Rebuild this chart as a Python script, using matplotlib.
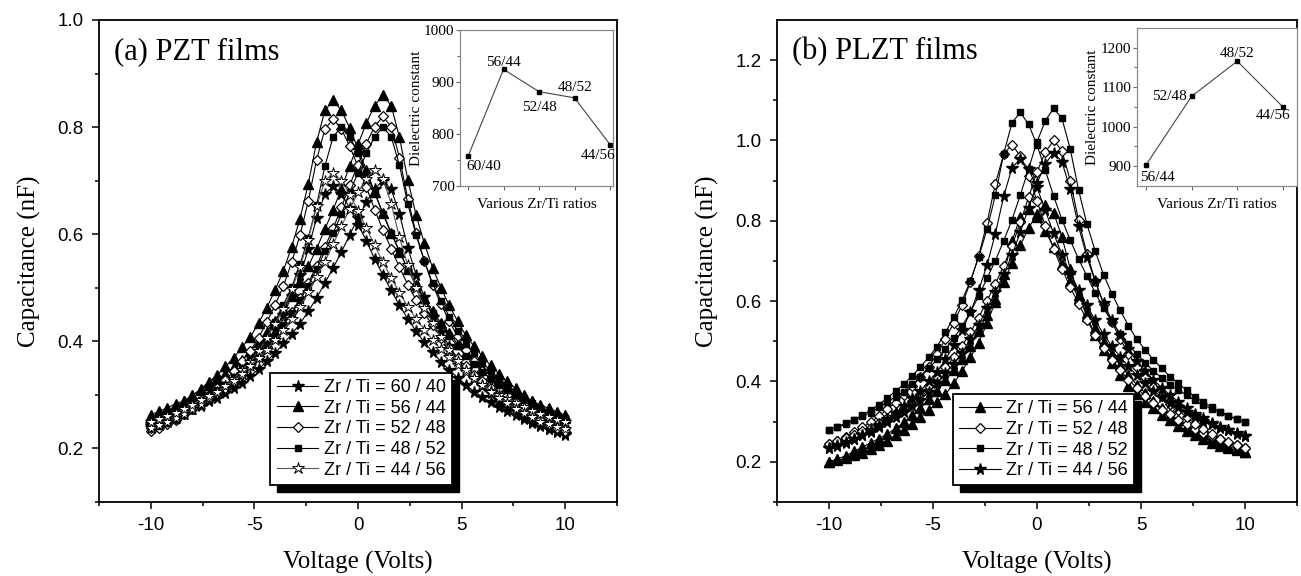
import numpy as np
import matplotlib.pyplot as plt
from matplotlib.patches import Rectangle

plt.rcParams['font.family'] = 'Liberation Serif'
plt.rcParams['axes.unicode_minus'] = False
SANS = 'Liberation Sans'

# bias sweep grid (V), 0.4 V steps
volts = np.round(np.arange(-10.0, 10.01, 0.4), 2)

# ---- (a) PZT films: capacitance (nF), "neg" = branch peaking at negative bias
pzt_6040_neg = [0.242,0.247,0.251,0.259,0.266,0.274,0.283,0.293,0.303,0.315,0.327,0.342,0.357,0.376,0.398,0.423,0.450,0.484,0.523,0.572,0.631,0.675,0.690,0.675,0.649,0.618,0.588,0.554,0.524,0.495,0.467,0.442,0.419,0.398,0.380,0.362,0.347,0.332,0.319,0.306,0.296,0.286,0.278,0.270,0.263,0.255,0.247,0.242,0.237,0.232,0.227]
pzt_6040_pos = [0.245,0.250,0.255,0.260,0.265,0.273,0.280,0.288,0.295,0.303,0.313,0.323,0.335,0.348,0.363,0.378,0.396,0.413,0.433,0.456,0.481,0.509,0.537,0.567,0.599,0.630,0.660,0.685,0.700,0.684,0.638,0.575,0.524,0.482,0.446,0.417,0.391,0.368,0.347,0.332,0.316,0.303,0.290,0.280,0.269,0.259,0.251,0.243,0.236,0.230,0.225]
pzt_5644_neg = [0.255,0.262,0.268,0.278,0.288,0.298,0.311,0.324,0.337,0.353,0.369,0.389,0.408,0.434,0.463,0.496,0.532,0.577,0.629,0.694,0.772,0.831,0.850,0.831,0.798,0.759,0.720,0.678,0.639,0.603,0.567,0.535,0.506,0.480,0.457,0.434,0.415,0.395,0.379,0.363,0.350,0.337,0.327,0.317,0.307,0.298,0.288,0.281,0.275,0.268,0.262]
pzt_5644_pos = [0.263,0.269,0.276,0.283,0.289,0.299,0.309,0.319,0.329,0.339,0.352,0.365,0.382,0.398,0.418,0.438,0.461,0.484,0.510,0.540,0.573,0.609,0.646,0.685,0.728,0.768,0.807,0.840,0.860,0.840,0.781,0.702,0.636,0.583,0.537,0.500,0.467,0.438,0.411,0.391,0.372,0.355,0.339,0.325,0.312,0.299,0.289,0.279,0.269,0.263,0.256]
pzt_5248_neg = [0.232,0.239,0.245,0.254,0.264,0.274,0.286,0.299,0.312,0.328,0.344,0.363,0.382,0.407,0.436,0.468,0.503,0.548,0.598,0.662,0.739,0.796,0.815,0.796,0.764,0.726,0.688,0.646,0.608,0.573,0.538,0.506,0.477,0.452,0.430,0.407,0.388,0.369,0.353,0.337,0.325,0.312,0.302,0.293,0.283,0.274,0.264,0.258,0.251,0.245,0.239]
pzt_5248_pos = [0.239,0.245,0.252,0.258,0.265,0.274,0.284,0.294,0.303,0.313,0.326,0.339,0.355,0.371,0.390,0.409,0.432,0.454,0.480,0.509,0.541,0.576,0.611,0.650,0.692,0.730,0.769,0.801,0.820,0.801,0.743,0.666,0.602,0.550,0.505,0.470,0.438,0.409,0.383,0.364,0.345,0.329,0.313,0.300,0.287,0.274,0.265,0.255,0.245,0.239,0.233]
pzt_4852_neg = [0.238,0.242,0.248,0.254,0.263,0.272,0.282,0.294,0.306,0.318,0.333,0.349,0.367,0.385,0.410,0.437,0.468,0.501,0.544,0.593,0.654,0.727,0.782,0.800,0.782,0.751,0.715,0.678,0.638,0.602,0.568,0.535,0.504,0.477,0.452,0.431,0.410,0.391,0.373,0.358,0.343,0.330,0.318,0.309,0.300,0.291,0.282,0.272,0.266,0.260,0.254]
pzt_4852_pos = [0.248,0.254,0.260,0.266,0.272,0.282,0.291,0.300,0.309,0.318,0.330,0.343,0.358,0.373,0.391,0.410,0.431,0.452,0.477,0.504,0.535,0.568,0.602,0.638,0.678,0.715,0.751,0.782,0.800,0.782,0.729,0.657,0.598,0.550,0.508,0.476,0.446,0.419,0.395,0.378,0.360,0.345,0.330,0.318,0.306,0.294,0.285,0.276,0.268,0.262,0.256]
pzt_4456_neg = [0.239,0.244,0.250,0.257,0.265,0.273,0.283,0.294,0.304,0.317,0.330,0.346,0.361,0.382,0.406,0.432,0.460,0.497,0.538,0.590,0.653,0.699,0.715,0.700,0.674,0.643,0.612,0.579,0.548,0.519,0.491,0.465,0.442,0.422,0.403,0.385,0.370,0.355,0.342,0.329,0.319,0.308,0.300,0.293,0.285,0.277,0.270,0.264,0.259,0.254,0.249]
pzt_4456_pos = [0.250,0.255,0.261,0.266,0.274,0.282,0.290,0.297,0.305,0.316,0.326,0.339,0.353,0.368,0.384,0.402,0.421,0.442,0.465,0.492,0.521,0.549,0.581,0.615,0.647,0.678,0.704,0.720,0.704,0.657,0.594,0.542,0.500,0.463,0.434,0.408,0.384,0.363,0.347,0.332,0.318,0.305,0.295,0.284,0.274,0.266,0.258,0.250,0.245,0.240,0.236]

# ---- (b) PLZT films
plzt_5644_neg = [0.200,0.204,0.209,0.216,0.222,0.233,0.243,0.253,0.266,0.280,0.294,0.311,0.328,0.348,0.368,0.395,0.426,0.460,0.497,0.545,0.599,0.667,0.749,0.810,0.830,0.810,0.775,0.734,0.693,0.649,0.608,0.570,0.532,0.498,0.468,0.440,0.416,0.392,0.372,0.351,0.334,0.317,0.303,0.290,0.279,0.269,0.259,0.249,0.238,0.232,0.225]
plzt_5644_pos = [0.200,0.207,0.215,0.226,0.236,0.247,0.258,0.269,0.283,0.298,0.316,0.334,0.356,0.377,0.403,0.428,0.457,0.489,0.526,0.565,0.605,0.648,0.695,0.739,0.782,0.818,0.840,0.820,0.760,0.681,0.615,0.562,0.515,0.479,0.446,0.416,0.389,0.369,0.349,0.333,0.316,0.303,0.290,0.277,0.267,0.257,0.247,0.240,0.234,0.229,0.225]
plzt_5248_neg = [0.245,0.253,0.262,0.274,0.286,0.298,0.314,0.331,0.347,0.367,0.388,0.412,0.437,0.469,0.506,0.546,0.591,0.648,0.713,0.795,0.892,0.966,0.990,0.961,0.912,0.850,0.788,0.730,0.681,0.635,0.594,0.553,0.516,0.483,0.454,0.429,0.404,0.384,0.363,0.347,0.330,0.318,0.305,0.293,0.281,0.272,0.264,0.256,0.248,0.241,0.235]
plzt_5248_pos = [0.245,0.252,0.260,0.268,0.277,0.285,0.297,0.310,0.322,0.335,0.351,0.368,0.389,0.410,0.435,0.460,0.489,0.522,0.559,0.601,0.643,0.688,0.738,0.796,0.859,0.921,0.971,1.000,0.975,0.900,0.801,0.718,0.651,0.593,0.548,0.506,0.469,0.436,0.411,0.386,0.365,0.344,0.328,0.311,0.295,0.282,0.270,0.257,0.249,0.241,0.235]
plzt_4852_neg = [0.280,0.286,0.294,0.303,0.316,0.329,0.342,0.359,0.376,0.393,0.414,0.436,0.461,0.487,0.522,0.560,0.603,0.650,0.710,0.779,0.864,0.967,1.044,1.070,1.040,0.989,0.926,0.862,0.803,0.752,0.705,0.663,0.621,0.582,0.549,0.519,0.493,0.468,0.447,0.426,0.409,0.392,0.379,0.366,0.353,0.341,0.332,0.324,0.315,0.307,0.300]
plzt_4852_pos = [0.280,0.287,0.296,0.305,0.314,0.322,0.336,0.349,0.362,0.375,0.393,0.410,0.433,0.455,0.481,0.508,0.538,0.573,0.613,0.657,0.701,0.750,0.803,0.864,0.930,0.996,1.049,1.080,1.055,0.979,0.877,0.792,0.725,0.666,0.619,0.577,0.539,0.505,0.479,0.454,0.433,0.412,0.395,0.378,0.361,0.348,0.336,0.323,0.314,0.306,0.300]
plzt_4456_neg = [0.235,0.240,0.248,0.256,0.268,0.279,0.291,0.307,0.322,0.338,0.358,0.377,0.401,0.424,0.455,0.490,0.529,0.572,0.627,0.690,0.768,0.861,0.932,0.955,0.928,0.883,0.826,0.769,0.716,0.670,0.628,0.590,0.552,0.518,0.488,0.461,0.438,0.415,0.396,0.377,0.362,0.347,0.336,0.324,0.313,0.301,0.294,0.286,0.279,0.271,0.265]
plzt_4456_pos = [0.235,0.242,0.250,0.258,0.266,0.274,0.286,0.299,0.311,0.323,0.339,0.355,0.375,0.396,0.420,0.444,0.472,0.505,0.541,0.582,0.622,0.667,0.715,0.772,0.832,0.893,0.942,0.970,0.947,0.878,0.786,0.710,0.649,0.595,0.553,0.515,0.480,0.450,0.427,0.404,0.385,0.366,0.350,0.335,0.320,0.308,0.297,0.285,0.278,0.270,0.265]

# ---- insets: dielectric constant vs composition
pzt_ratios = ['60/40', '56/44', '52/48', '48/52', '44/56']
pzt_eps = [757, 925, 882, 870, 780]
plzt_ratios = ['56/44', '52/48', '48/52', '44/56']
plzt_eps = [903, 1077, 1166, 1050]

x_ticks = [-10, -5, 0, 5, 10]
x_ticklabels = ['-10', '-5', '0', '5', '10']
pzt_yticks = [0.2, 0.4, 0.6, 0.8, 1.0]
plzt_yticks = [0.2, 0.4, 0.6, 0.8, 1.0, 1.2]

filled_star = dict(marker='*', ms=8.5, mfc='k', mec='k', color='k')
triangle = dict(marker='^', ms=6.5, mfc='k', mec='k', color='k')
diamond = dict(marker='D', ms=5.2, mfc='white', mec='k', mew=0.9, color='k')
square = dict(marker='s', ms=5, mfc='k', mec='k', color='k')
open_star = dict(marker='*', ms=9, mfc='white', mec='k', mew=0.7, color='#555555')

pzt_series = [
    ('Zr / Ti = 60 / 40', pzt_6040_neg, pzt_6040_pos, filled_star),
    ('Zr / Ti = 56 / 44', pzt_5644_neg, pzt_5644_pos, triangle),
    ('Zr / Ti = 52 / 48', pzt_5248_neg, pzt_5248_pos, diamond),
    ('Zr / Ti = 48 / 52', pzt_4852_neg, pzt_4852_pos, square),
    ('Zr / Ti = 44 / 56', pzt_4456_neg, pzt_4456_pos, open_star),
]
plzt_series = [
    ('Zr / Ti = 56 / 44', plzt_5644_neg, plzt_5644_pos, triangle),
    ('Zr / Ti = 52 / 48', plzt_5248_neg, plzt_5248_pos, diamond),
    ('Zr / Ti = 48 / 52', plzt_4852_neg, plzt_4852_pos, square),
    ('Zr / Ti = 44 / 56', plzt_4456_neg, plzt_4456_pos, filled_star),
]

fig = plt.figure(figsize=(13.01, 5.76), dpi=100)
ax_a = fig.add_axes([0.0761, 0.1285, 0.3982, 0.8368])
ax_b = fig.add_axes([0.5972, 0.1285, 0.3997, 0.8368])


def draw_panel(ax, series, ylim, yticks, title, anchor):
    for label, neg, pos, style in series:
        ax.plot(volts, neg, lw=0.8, label=label, **style)
        ax.plot(volts, pos, lw=0.8, **style)
    ax.set_xticks(x_ticks, x_ticklabels, fontfamily=SANS, fontsize=13.5)
    ax.set_xticks([-12.5, -7.5, -2.5, 2.5, 7.5, 12.5], minor=True)
    ax.set_yticks(yticks, ['%.1f' % t for t in yticks], fontfamily=SANS, fontsize=13.5)
    ax.set_yticks([round(t - 0.1, 1) for t in yticks], minor=True)
    ax.set_xlim(-12.5, 12.5)
    ax.set_ylim(*ylim)
    ax.tick_params(which='major', direction='out', length=5, width=1.1, pad=6)
    ax.tick_params(which='minor', direction='out', length=3, width=1.1)
    for sp in ax.spines.values():
        sp.set_linewidth(1.3)
    ax.set_xlabel('Voltage (Volts)', fontsize=18, labelpad=12)
    ax.set_ylabel('Capacitance (nF)', fontsize=18, labelpad=12)
    ax.text(0.028, 0.965, title, transform=ax.transAxes, fontsize=22, va='top')
    leg = ax.legend(loc='upper left', bbox_to_anchor=anchor, borderaxespad=0,
                    frameon=True, fancybox=False, edgecolor='k', framealpha=1,
                    prop={'family': SANS, 'size': 13}, handlelength=2.3,
                    handletextpad=0.3, labelspacing=0.2, borderpad=0.35)
    leg.get_frame().set_linewidth(1.3)
    leg.set_zorder(5)
    return leg


leg_a = draw_panel(ax_a, pzt_series, (0.1, 1.0), pzt_yticks, '(a) PZT films', (0.331, 0.268))
leg_b = draw_panel(ax_b, plzt_series, (0.1, 1.3), plzt_yticks, '(b) PLZT films', (0.338, 0.224))


def draw_inset(rect, ratios, eps, ylim, yticks, xlim, offsets):
    ins = fig.add_axes(rect)
    pos = np.arange(1, len(ratios) + 1)
    ins.plot(pos, eps, color='#444444', lw=0.8, marker='s', ms=3, mfc='k', mec='k')
    ins.set_xticks(pos, [])
    ins.set_yticks(yticks, [str(t) for t in yticks], fontsize=11)
    ins.set_yticks([t + 50 for t in yticks[:-1]], minor=True)
    ins.set_xlim(*xlim)
    ins.set_ylim(*ylim)
    ins.tick_params(which='major', direction='out', length=3, width=0.8, pad=1, color='#666666')
    ins.tick_params(which='minor', direction='out', length=2, width=0.8, color='#666666')
    for sp in ins.spines.values():
        sp.set_color('#888888')
        sp.set_linewidth(0.9)
    ins.set_ylabel('Dielectric constant', fontsize=11, labelpad=1)
    ins.set_xlabel('Various Zr/Ti ratios', fontsize=11, labelpad=5)
    for p, e, r, (dx, dy, ha) in zip(pos, eps, ratios, offsets):
        ins.annotate(r, (p, e), xytext=(dx, dy), textcoords='offset points',
                     ha=ha, va='center', fontsize=11)


draw_inset([0.3536, 0.6771, 0.1176, 0.2700], pzt_ratios, pzt_eps, (700, 1000),
           [700, 800, 900, 1000], (0.775, 5.085),
           [(-1.5, -7, 'left'), (0, 5, 'center'), (0, -11.5, 'center'),
            (0.5, 7.5, 'center'), (3.6, -8, 'right')])
draw_inset([0.8739, 0.6771, 0.1230, 0.2743], plzt_ratios, plzt_eps, (850, 1250),
           [900, 1000, 1100, 1200], (0.803, 4.307),
           [(-4.3, -8.6, 'left'), (-3.6, 0, 'right'), (0, 5.8, 'center'),
            (-7.2, -5.8, 'center')])

# solid black drop shadow behind each legend box
fig.canvas.draw()
renderer = fig.canvas.get_renderer()
for ax, leg in [(ax_a, leg_a), (ax_b, leg_b)]:
    bb = leg.get_window_extent(renderer)
    (x0, y0), (x1, y1) = ax.transAxes.inverted().transform(
        [[bb.x0 + 7, bb.y0 - 7], [bb.x1 + 7, bb.y1 - 7]])
    ax.add_patch(Rectangle((x0, y0), x1 - x0, y1 - y0, transform=ax.transAxes,
                           facecolor='k', edgecolor='k', zorder=4.9, clip_on=False))

fig.savefig('out.png', dpi=100)
